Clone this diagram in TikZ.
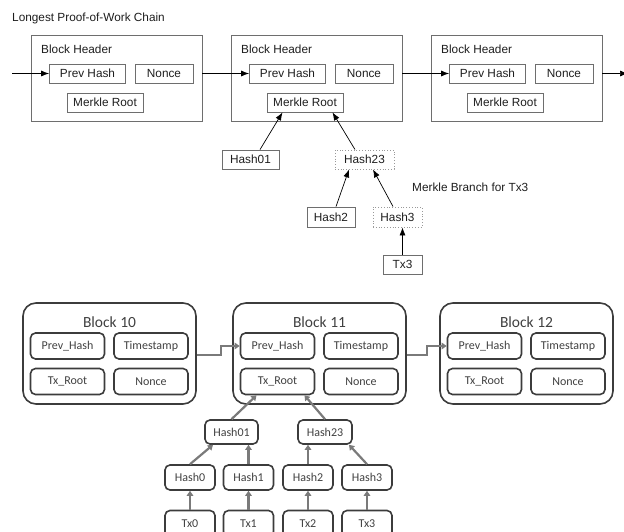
\documentclass[tikz,border=0pt]{standalone}
\usepackage{fontspec}
\newfontfamily\arialf{Liberation Sans}
\newfontfamily\calib{Carlito}
\usetikzlibrary{arrows.meta}
\definecolor{topline}{HTML}{6E6E6E}
\definecolor{toptext}{HTML}{1E1E1E}
\definecolor{botline}{HTML}{3C3C3C}
\definecolor{bottext}{HTML}{404040}
\definecolor{botarrowc}{HTML}{7A7A7A}
\begin{document}
\begin{tikzpicture}[x=1pt,y=-1pt,
  topbox/.style={draw=topline,line width=0.8pt,inner sep=0pt,minimum height=19pt,
    text=toptext,font=\arialf\fontsize{11.8}{13}\selectfont},
  topblock/.style={draw=topline,line width=0.8pt,inner sep=0pt,minimum width=171pt,minimum height=86pt},
  branchbox/.style={topbox,draw=topline!70,dotted,line width=0.9pt},
  toptxt/.style={text=toptext,inner sep=0pt,font=\arialf\fontsize{11.8}{13}\selectfont},
  toparrow/.style={draw=black,line width=0.7pt,-{Latex[length=8pt,width=6pt]}},
  botbox/.style={draw=botline,line width=1.6pt,rounded corners=5pt,inner sep=0pt,
    text=bottext,font=\calib\fontsize{12}{14}\selectfont},
  botblock/.style={draw=botline,line width=1.6pt,rounded corners=13pt,inner sep=0pt,
    minimum width=173pt,minimum height=101pt},
  bottitle/.style={text=bottext,inner sep=0pt,font=\calib\fontsize{15.5}{18}\selectfont},
  botarrow/.style={draw=botarrowc,line width=2.2pt,-{Triangle[length=5pt,width=6.5pt]}}]
\useasboundingbox (0,0) rectangle (624,532);
\begin{scope}
\clip (0,0) rectangle (624,532);

% ---------- Longest proof-of-work chain ----------
\node[toptxt,anchor=west] (title) at (12,18) {Longest Proof-of-Work Chain};

\foreach \i/\x in {1/31,2/231,3/431}{
  \node[topblock] (hb\i) at (\x+85.5,78) {};
  \node[toptxt,anchor=west] (hl\i) at (\x+10,49) {Block Header};
  \node[topbox,minimum width=76pt] (ph\i) at (\x+56.5,73.5) {Prev Hash};
  \node[topbox,minimum width=58pt] (no\i) at (\x+133,73.5) {Nonce};
  \node[topbox,minimum width=76pt] (mr\i) at (\x+74,102.5) {Merkle Root};
}
\coordinate (chainin) at (12,73.5);
\coordinate (chainout) at (628,73.5);
\draw[toparrow] (chainin) -- (ph1.west);
\draw[toparrow] (hb1.east |- ph1.west) -- (ph2.west);
\draw[toparrow] (hb2.east |- ph2.west) -- (ph3.west);
\draw[toparrow] (hb3.east |- ph3.west) -- (chainout);

% ---------- Merkle branch ----------
\node[topbox,minimum width=57pt] (h01) at (250.5,159.5) {Hash01};
\node[branchbox,minimum width=59pt] (h23) at (364.5,159.5) {Hash23};
\node[topbox,minimum width=48pt,minimum height=20pt] (h2) at (331,217) {Hash2};
\node[branchbox,minimum width=49pt,minimum height=20pt] (h3) at (397.5,217) {Hash3};
\node[topbox,minimum width=39pt] (tx3) at (402.5,264.5) {Tx3};
\node[toptxt,anchor=west] (branchlbl) at (412,187) {Merkle Branch for Tx3};

\draw[toparrow] ([xshift=9.5pt]h01.north) -- ([xshift=-22.5pt]mr2.south);
\draw[toparrow] ([xshift=-9.5pt]h23.north) -- ([xshift=27.5pt]mr2.south);
\draw[toparrow] ([xshift=5pt]h2.north) -- ([xshift=-15.5pt]h23.south);
\draw[toparrow] ([xshift=-4.5pt]h3.north) -- ([xshift=8.5pt]h23.south);
\draw[toparrow] (tx3.north) -- (tx3.north |- h3.south);

% ---------- Blocks with transaction roots ----------
\foreach \n/\x in {10/23,11/233,12/440}{
  \node[botblock] (bb\n) at (\x+86.5,353.5) {};
  \node[bottitle] (bt\n) at (\x+86.5,322) {Block \n};
  \node[botbox,minimum width=74pt,minimum height=26pt] (pr\n) at (\x+44.5,346) {Prev\_Hash};
  \node[botbox,minimum width=74pt,minimum height=26pt] (ts\n) at (\x+128,346) {Timestamp};
  \node[botbox,minimum width=74pt,minimum height=26pt] (tr\n) at (\x+44.5,381.5) {Tx\_Root};
  \node[botbox,minimum width=74pt,minimum height=26pt] (nc\n) at (\x+128,381.5) {Nonce};
}
\draw[botarrow] ([yshift=-1.5pt]bb10.east) -- ++(24,0) |- (pr11.west);
\draw[botarrow] ([yshift=-1.5pt]bb11.east) -- ++(20,0) |- (pr12.west);

% ---------- Merkle tree ----------
\node[botbox,minimum width=53pt,minimum height=24pt] (m01) at (231.5,432) {Hash01};
\node[botbox,minimum width=54pt,minimum height=24pt] (m23) at (325,432) {Hash23};
\foreach \k/\x in {0/190,1/248.5,2/308,3/367}{
  \node[botbox,minimum width=50pt,minimum height=25pt] (m\k) at (\x,477.5) {Hash\k};
  \node[botbox,minimum width=50pt,minimum height=26pt] (t\k) at (\x,523.5) {Tx\k};
  \draw[botarrow] (t\k.north) -- (t\k.north |- m\k.south);
}
\draw[botarrow] (m0.north) -- ([xshift=-18.5pt]m01.south);
\draw[botarrow] (m1.north) -- (m1.north |- m01.south);
\draw[botarrow] (m2.north) -- (m2.north |- m23.south);
\draw[botarrow] (m3.north) -- ([xshift=24pt]m23.south);
\draw[botarrow] (m01.north) -- ([xshift=-21pt]tr11.south);
\draw[botarrow] (m23.north) -- ([xshift=27pt]tr11.south);
\end{scope}
\end{tikzpicture}
\end{document}
